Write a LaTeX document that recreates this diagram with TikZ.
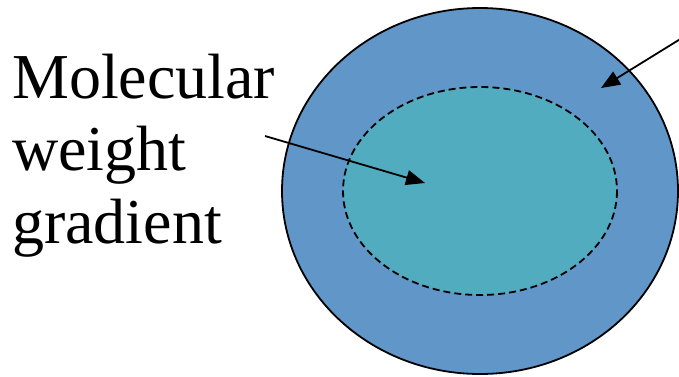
\documentclass[tikz,border=0pt]{standalone}
\usepackage{fontspec}
\setmainfont{Liberation Serif}
\usetikzlibrary{arrows.meta}
\definecolor{outerblue}{RGB}{96,150,200}
\definecolor{innerteal}{RGB}{80,172,190}
\tikzset{
  ring/.style={line width=1.8bp},
  pointer/.style={line width=1.8bp,-{Triangle[length=19bp,width=15bp]}},
  label/.style={font=\fontsize{64bp}{72.5bp}\selectfont,align=left,inner sep=0pt}
}
\begin{document}
\begin{tikzpicture}[x=1bp,y=-1bp]
\useasboundingbox (0,0) rectangle (679,376);
\draw[ring,fill=outerblue] (480,191) ellipse [x radius=198, y radius=183];
\draw[ring,dash pattern=on 7bp off 4bp,fill=innerteal] (480,191) ellipse [x radius=137, y radius=104];
\node[label,anchor=base west] (txt) at (12,243) {Molecular\\weight\\gradient};
\coordinate (s1) at (265,136);
\coordinate (t1) at (425,183);
\coordinate (s2) at (682,38);
\coordinate (t2) at (601,88);
\draw[pointer] (s1) -- (t1);
\draw[pointer] (s2) -- (t2);
\end{tikzpicture}
\end{document}
